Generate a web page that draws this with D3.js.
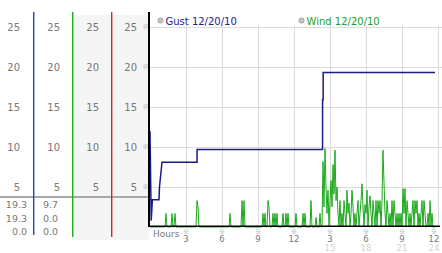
<!DOCTYPE html>
<html>
<head>
<meta charset="utf-8">
<script src="https://cdn.jsdelivr.net/npm/d3@7"></script>
<style>
  body { margin: 0; background: #fff; }
  text { font-family: "DejaVu Sans", Verdana, sans-serif; }
  text.glyph { font-family: "Noto Sans CJK JP", "DejaVu Sans", sans-serif; }
</style>
</head>
<body>
<svg id="chart"></svg>
<script>
    // Data
    const yTicks = [25, 20, 15, 10, 5];
    const hourTicks = [3, 6, 9, 12, 15, 18, 21, 24];
    const hourLabels = ["3", "6", "9", "12", "3", "6", "9", "12"];
    const hourLabels2 = ["", "", "", "", "15", "18", "21", "24"];

    const gustLegend = "Gust 12/20/10";
    const windLegend = "Wind 12/20/10";
    const gustSummary = ["19.3", "19.3", "0.0"];
    const windSummary = ["9.7", "0.0", "0.0"];

    // gust: step points (hours, value)
    const gustHours  = [0, 0.1, 0.2, 0.75, 0.79, 1.0, 3.92, 3.92, 14.38, 14.38, 14.43, 14.43, 23.75];
    const gustValues = [12, 0.8, 3.4, 3.4, 5.0, 8.1, 8.1, 9.7, 9.7, 15.9, 15.9, 19.3, 19.3];

    // wind: one sample every 5 minutes from 00:00
    const windValues = [
      0, 0, 0, 0, 0, 0, 0, 0, 0, 0, 0, 0, 0, 0, 0, 0, 1.7, 0, 0, 0, 0, 0, 1.7, 0,
      0, 1.7, 0, 0, 0, 0, 0, 0, 0, 0, 0, 0, 0, 0, 0, 0, 0, 0, 0, 0, 0, 0, 0, 3.3,
      2.5, 0, 0, 0, 0, 0, 0, 0, 0, 0, 0, 0, 0, 0, 0, 0, 0, 0, 0, 0, 0, 0, 0, 0,
      0, 0, 0, 0, 0, 0, 0, 0, 1.7, 0, 0, 0, 0, 0, 0, 0, 0, 0, 0, 0, 3.3, 0, 3.3, 0,
      0, 0, 0, 0, 0, 0, 0, 0, 0, 0, 0, 0, 0, 0, 0, 0, 0, 1.7, 0, 1.7, 0, 0, 3.3, 2.5,
      0, 0, 0, 1.7, 0, 1.7, 0, 1.7, 0, 0, 0, 0, 0, 1.7, 0, 0, 1.7, 0, 1.7, 0, 0, 0, 0, 0,
      0, 0, 1.7, 0, 0, 0, 0, 0, 0, 1.7, 0, 1.7, 0, 0, 0, 0, 0, 3.3, 0, 0, 0, 0, 1.2, 0,
      0, 0, 1.7, 0, 0, 8.2, 2.5, 9.8, 5.0, 1.7, 4.6, 0, 3.3, 5.8, 2.5, 7.8, 4.1, 9.6, 3.3, 5.0, 1.7, 0, 3.3, 0,
      1.7, 0, 3.3, 1.7, 0, 4.6, 1.7, 3.0, 0, 1.7, 4.6, 2.5, 0, 1.7, 0, 1.7, 3.3, 0, 1.7, 3.3, 5.4, 2.5, 0, 2.8,
      1.7, 4.6, 0, 2.5, 3.9, 1.7, 0, 3.3, 1.7, 0, 3.3, 0, 3.3, 1.7, 3.3, 0, 3.3, 9.6, 5.6, 1.7, 0, 3.3, 1.7, 0,
      1.7, 0, 3.3, 0, 3.3, 1.7, 0, 1.7, 0, 1.7, 0, 1.7, 0, 4.8, 1.7, 4.8, 0, 3.3, 1.7, 0, 1.7, 0, 1.7, 3.3,
      0, 3.3, 1.7, 3.3, 0, 1.7, 0, 1.7, 3.3, 0, 3.3, 1.7, 0, 0, 1.7, 0, 3.3, 0, 1.7, 0, 0, 0
    ];

    const width = 442, height = 253;
    const svg = d3.select("#chart")
      .attr("width", width)
      .attr("height", height);

    const x = d3.scaleLinear().domain([0, 24]).range([150, 438]);
    const y = d3.scaleLinear().domain([0, 25]).range([227, 27]);

    // left panel: shaded columns
    svg.append("rect").attr("x", 72).attr("y", 15).attr("width", 77).attr("height", 225)
      .attr("fill", "#f5f5f5");

    // left panel horizontal separator
    svg.append("rect").attr("x", 0).attr("y", 196).attr("width", 149).attr("height", 2)
      .attr("fill", "#a8a8a8");

    // column dividers
    const dividers = [
      { x: 33, color: "#2244cc", y2: 235 },
      { x: 72, color: "#22aa22", y2: 237 },
      { x: 111, color: "#cc2a2a", y2: 237 }
    ];
    svg.selectAll(".divider").data(dividers).join("rect")
      .attr("x", d => d.x).attr("y", 12)
      .attr("width", 1.4).attr("height", d => d.y2 - 12)
      .attr("fill", d => d.color);

    // y labels repeated in the four columns
    const colRight = [20, 60, 99, 137];
    colRight.forEach(cx => {
      svg.append("g").selectAll("text").data(yTicks).join("text")
        .attr("x", cx).attr("y", d => y(d)).attr("dy", "0.36em")
        .attr("text-anchor", "end")
        .attr("font-size", 10).attr("fill", "#777")
        .text(d => d);
    });
    // little tick glyphs by the plot axis
    svg.append("g").selectAll("text").data(yTicks).join("text")
      .attr("class", "glyph")
      .attr("x", 145.5).attr("y", d => y(d)).attr("dy", "0.36em")
      .attr("text-anchor", "middle")
      .attr("font-size", 6).attr("fill", "#999")
      .text("\u203B");

    // summaries under the separator
    [gustSummary, windSummary].forEach((vals, k) => {
      svg.append("g").selectAll("text").data(vals).join("text")
        .attr("x", k === 0 ? 27 : 58)
        .attr("y", (d, i) => 204.5 + i * 13.6).attr("dy", "0.36em")
        .attr("text-anchor", "end")
        .attr("font-size", 9.5).attr("fill", "#777")
        .text(d => d);
    });

    // grid
    svg.append("g").selectAll("line").data(yTicks).join("line")
      .attr("x1", 150).attr("x2", 442)
      .attr("y1", d => Math.round(y(d)) + 0.5).attr("y2", d => Math.round(y(d)) + 0.5)
      .attr("stroke", "#dcdcdc");
    svg.append("g").selectAll("line").data(hourTicks).join("line")
      .attr("x1", d => Math.round(x(d)) + 0.5).attr("x2", d => Math.round(x(d)) + 0.5)
      .attr("y1", 25).attr("y2", 226)
      .attr("stroke", "#dcdcdc");

    // legend
    const legend = [
      { text: gustLegend, cx: 160.5, color: "#1c1c8c" },
      { text: windLegend, cx: 301.5, color: "#22a022" }
    ];
    legend.forEach(l => {
      svg.append("circle").attr("cx", l.cx).attr("cy", 20.5).attr("r", 2.6)
        .attr("fill", "#c4c4c4").attr("stroke", "#999").attr("stroke-width", 0.8);
      svg.append("text").attr("x", l.cx + 5).attr("y", 24.5)
        .attr("font-size", 10).attr("fill", l.color).text(l.text);
    });

    // wind line
    const windLine = d3.line()
      .x((d, i) => x(i / 12))
      .y(d => y(d));
    svg.append("path")
      .datum(windValues)
      .attr("fill", "none")
      .attr("stroke", "#1ca81c")
      .attr("stroke-width", 1)
      .attr("d", windLine);

    // gust line
    const gustLine = d3.line()
      .x(d => x(d[0]))
      .y(d => y(d[1]));
    svg.append("path")
      .datum(d3.zip(gustHours, gustValues))
      .attr("fill", "none")
      .attr("stroke", "#1a1a8c")
      .attr("stroke-width", 1.5)
      .attr("d", gustLine);

    // axes
    svg.append("rect").attr("x", 148).attr("y", 12).attr("width", 2).attr("height", 215)
      .attr("fill", "#000");
    svg.append("rect").attr("x", 150).attr("y", 225.5).attr("width", 290).attr("height", 1.5)
      .attr("fill", "#000");

    // bottom axis labels
    svg.append("text").attr("x", 153).attr("y", 236.5)
      .attr("font-size", 9).attr("fill", "#777").text("Hours");
    const tx = (d, i) => x(d) - (i === hourTicks.length - 1 ? 4 : 0);
    svg.append("g").selectAll("text").data(hourTicks).join("text")
      .attr("class", "glyph")
      .attr("x", tx).attr("y", 233.5)
      .attr("text-anchor", "middle").attr("font-size", 6).attr("fill", "#999")
      .text("\u203B");
    svg.append("g").selectAll("text").data(hourTicks).join("text")
      .attr("x", tx).attr("y", 242)
      .attr("text-anchor", "middle").attr("font-size", 8.5).attr("fill", "#777")
      .text((d, i) => hourLabels[i]);
    svg.append("g").selectAll("text").data(hourTicks).join("text")
      .attr("x", tx).attr("y", 250.5)
      .attr("text-anchor", "middle").attr("font-size", 8.5).attr("fill", "#d4d4d4")
      .text((d, i) => hourLabels2[i]);
</script>
</body>
</html>
